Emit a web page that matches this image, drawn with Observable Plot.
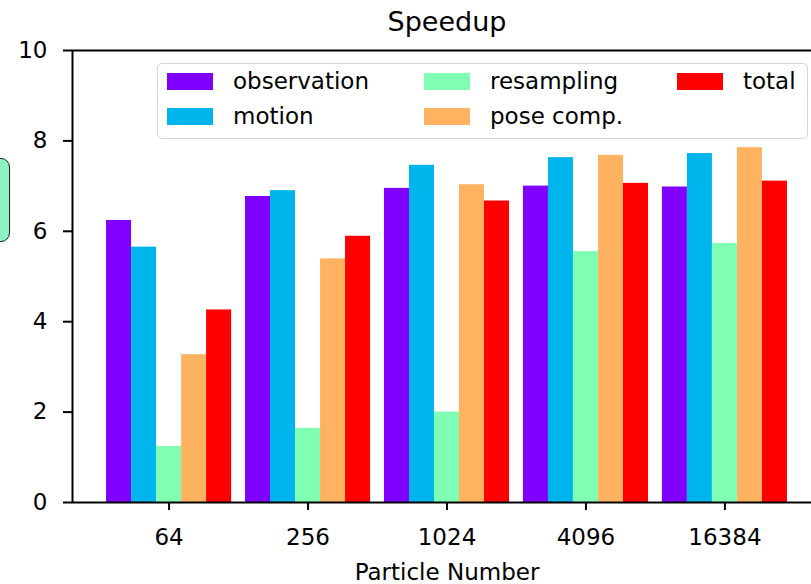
<!DOCTYPE html>
<html><head><meta charset="utf-8">
<script src="https://cdn.jsdelivr.net/npm/d3@7"></script>
<script src="https://cdn.jsdelivr.net/npm/@observablehq/plot@0.6"></script>
<style>
html,body{margin:0;padding:0;overflow:hidden;background:#fff;}
#wrap{position:relative;width:811px;height:584px;overflow:hidden;font-family:"DejaVu Sans",sans-serif;}
#wrap svg{position:absolute;left:0;top:0;max-width:none !important;width:830px !important;height:584px !important;}
.legend{position:absolute;left:157px;top:63px;width:649px;height:74px;border:1.5px solid #d4d4d4;border-radius:5px;background:rgba(255,255,255,0.85);}
.sw{position:absolute;width:46px;height:17px;}
.lt{position:absolute;font-size:23px;line-height:23px;color:#000;white-space:nowrap;}
.greenbox{position:absolute;left:-12px;top:158px;width:20px;height:82px;border:1.5px solid #222;border-radius:9px;background:#8ef2c0;}
</style></head><body><div id="wrap"></div>
<script>
const categories = ["64", "256", "1024", "4096", "16384"];
const series = ["observation", "motion", "resampling", "pose comp.", "total"];
const colors = ["#8000ff", "#00b5eb", "#80ffb4", "#ffb360", "#ff0000"];
const observation = [6.24, 6.77, 6.95, 7.00, 6.98];
const motion = [5.65, 6.90, 7.46, 7.63, 7.72];
const resampling = [1.24, 1.64, 2.00, 5.55, 5.73];
const poseComp = [3.27, 5.39, 7.03, 7.68, 7.85];
const total = [4.26, 5.89, 6.67, 7.06, 7.11];
const yTicks = [0, 2, 4, 6, 8, 10];
const title = "Speedup";
const xLabel = "Particle Number";

const values = [observation, motion, resampling, poseComp, total];
const barWidth = 0.18;
const rows = [];
series.forEach((s, j) => categories.forEach((c, i) => rows.push({series: s, cat: c, i, j, value: values[j][i]})));

const plot = Plot.plot({
  width: 830, height: 584,
  marginLeft: 72, marginRight: 9, marginTop: 50, marginBottom: 82,
  style: {fontFamily: "DejaVu Sans", fontSize: "23px", color: "black", background: "transparent", overflow: "visible"},
  x: {domain: [-0.695, 4.695], axis: null},
  y: {domain: [0, 10], axis: null},
  color: {domain: series, range: colors},
  marks: [
    Plot.rectY(rows, {
      x1: d => d.i - 2.5 * barWidth + d.j * barWidth,
      x2: d => d.i - 2.5 * barWidth + (d.j + 1) * barWidth,
      y1: 0, y2: "value", fill: "series"
    }),
    Plot.frame({stroke: "black", strokeWidth: 2}),
    Plot.axisX({ticks: d3.range(categories.length), tickFormat: i => categories[i], tickSize: 8, tickPadding: 18, strokeWidth: 2, fontSize: 23, label: null}),
    Plot.axisY({ticks: yTicks, tickSize: 9, tickPadding: 16, strokeWidth: 2, fontSize: 23, label: null}),
    Plot.text([title], {text: d => d, frameAnchor: "top", dy: -28, fontSize: 27, lineAnchor: "middle"}),
    Plot.text([xLabel], {text: d => d, frameAnchor: "bottom", dy: 70, fontSize: 23, lineAnchor: "middle"})
  ]
});

const wrap = document.getElementById("wrap");
wrap.appendChild(plot);

const gb = document.createElement("div");
gb.className = "greenbox";
wrap.appendChild(gb);

const legend = document.createElement("div");
legend.className = "legend";
wrap.appendChild(legend);

const colX = [167, 424, 677];
const rowY = [73, 108];
series.forEach((s, k) => {
  const c = Math.floor(k / 2), r = k % 2;
  const sw = document.createElement("div");
  sw.className = "sw";
  sw.style.left = colX[c] + "px";
  sw.style.top = rowY[r] + "px";
  sw.style.background = plot.scale("color").apply(s);
  wrap.appendChild(sw);
  const t = document.createElement("div");
  t.className = "lt";
  t.textContent = s;
  t.style.left = (colX[c] + 66) + "px";
  t.style.top = (rowY[r] - 3) + "px";
  wrap.appendChild(t);
});
</script>
</body></html>
